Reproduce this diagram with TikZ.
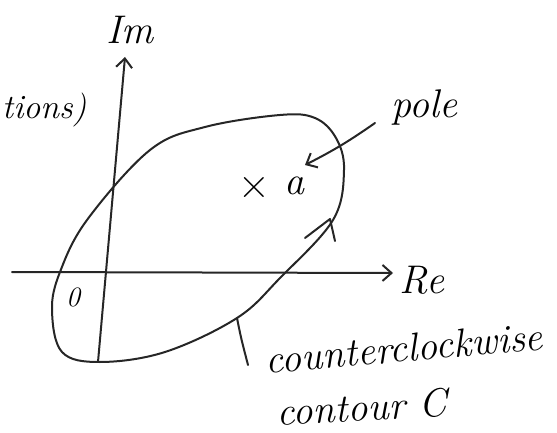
\documentclass[tikz,border=0pt]{standalone}
\usetikzlibrary{arrows.meta}
\begin{document}
\begin{tikzpicture}[x=1pt,y=-1pt, line cap=round, line join=round,
  ink/.style={line width=2pt, black!85},
  hand/.style={font=\fontsize{40}{44}\selectfont\itshape, inner sep=0pt},
  barb/.style={-{Straight Barb[length=9pt,width=16pt,line width=2pt]}}]
\useasboundingbox (0,0) rectangle (557,433);
% axes
\coordinate (yb) at (98,362);
\coordinate (yt) at (125,57);
\coordinate (xl) at (12,272);
\coordinate (xr) at (393,273);
\draw[ink,barb] (yb) -- (yt);
\draw[ink,barb] (xl) -- (xr);
\node[hand] (im) at (130,30) {Im};
\node[hand] (re) at (422,280) {Re};
\node[hand, font=\fontsize{28}{30}\selectfont\itshape] (zero) at (73,297) {0};
% partial label at the left
\node[hand, anchor=west, font=\fontsize{34}{36}\selectfont\itshape] (tions) at (2,110) {tions)};
% contour
\draw[ink] plot[smooth cycle, tension=0.6] coordinates {(280,115) (315,118) (336,138) (344,170) (333,220) (280,278) (237,318) (165,352) (100,362) (62,352) (52,310) (60,272) (87,220) (150,150) (205,127)};
\coordinate (ah) at (330,219);
\draw[ink] (305,238) -- (ah) -- (335,241);
% pole
\node[hand, font=\fontsize{44}{46}\selectfont] (cross) at (254,188) {×};
\node[hand] (a) at (294,186) {a};
\node[hand] (pole) at (424,108) {pole};
\coordinate (ps) at (375,123);
\coordinate (pt) at (305,165);
\draw[ink,barb] (ps) to[bend left=4] (pt);
% contour label
\coordinate (cp) at (237,318);
\coordinate (ce) at (248,365);
\draw[ink] (cp) .. controls (241,338) .. (ce);
\node[hand, rotate=5] (ccw) at (404,348) {counterclockwise};
\node[hand, rotate=3] (cont) at (362,407) {contour C};
\end{tikzpicture}
\end{document}
